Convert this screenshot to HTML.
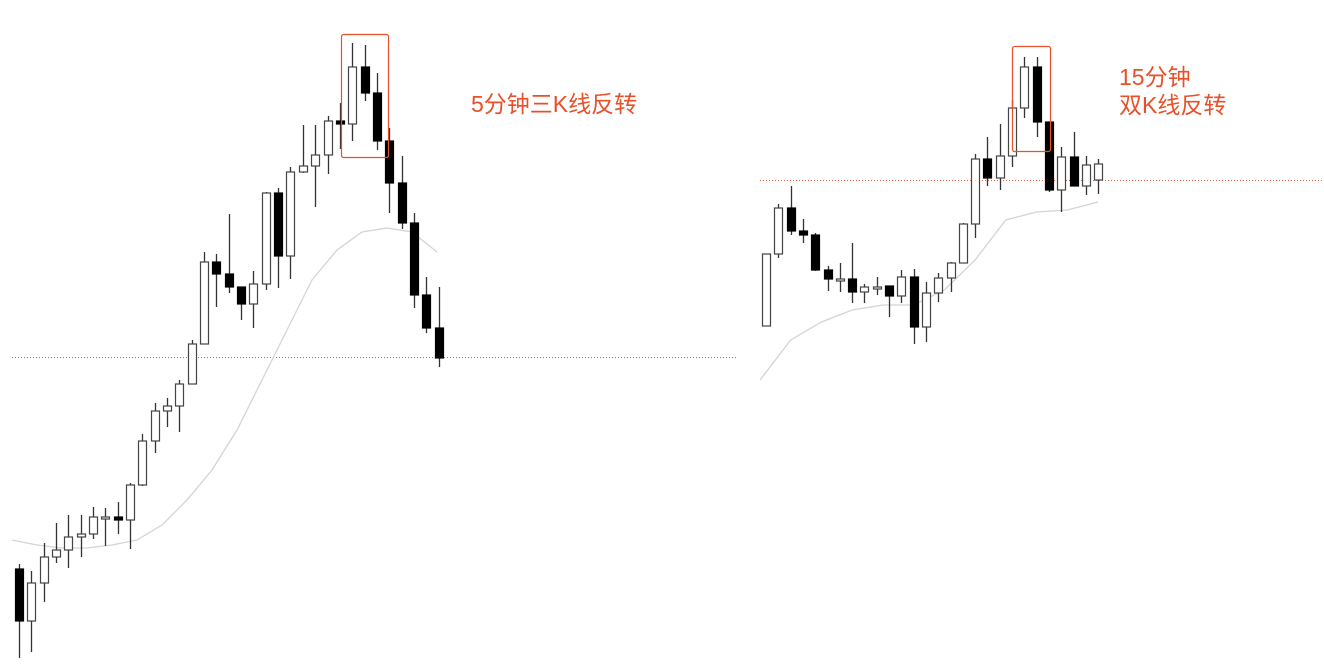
<!DOCTYPE html>
<html><head><meta charset="utf-8"><style>
html,body{margin:0;padding:0;background:#fff;width:1324px;height:665px;overflow:hidden}
.lbl{position:absolute;color:#e8502a;font-family:"Liberation Sans","Noto Sans CJK SC",sans-serif;font-size:23px;line-height:28px;white-space:nowrap}
</style></head><body>
<svg id="chart" width="1324" height="665" style="position:absolute;left:0;top:0">
<line x1="12" y1="357.5" x2="737" y2="357.5" stroke="#e06040" stroke-width="1" stroke-dasharray="1,2"/>
<line x1="760" y1="180.5" x2="1324" y2="180.5" stroke="#e06040" stroke-width="1" stroke-dasharray="1,2"/>
<g id="left"></g>
<g id="right"></g>
<rect x="341.5" y="34.5" width="47" height="123" rx="2" fill="none" stroke="#e8502a" stroke-width="1.2"/>
<rect x="1012.5" y="46.5" width="38" height="105" rx="2" fill="none" stroke="#e8502a" stroke-width="1.2"/>
</svg>
<div class="lbl" style="left:471px;top:90px">5分钟三K线反转</div>
<div class="lbl" style="left:1119px;top:63px">15分钟<br>双K线反转</div>
<script>
// price values (arbitrary units), [open, high, low, close]
const leftOpen  = [131,79,117,143,150,163,166,183,183,180,215,259,289,294,316,356,438,426,413,396,416,507,444,528,534,545,579,576,633,607,559,517,477,405,372];
const leftClose = [79,117,143,150,163,166,183,183,180,215,259,289,294,316,356,438,426,413,396,416,507,444,528,534,545,579,576,633,607,559,517,477,405,372,342];
const leftHigh  = [136,129,157,177,185,185,193,192,198,217,266,297,302,320,360,448,446,486,413,429,508,512,533,575,575,584,597,657,655,627,572,544,487,423,413];
const leftLow   = [42,48,98,137,132,143,161,154,166,151,214,247,273,268,316,356,393,407,380,372,410,412,421,527,493,526,551,559,599,550,487,471,392,367,333];
const leftMA    = [160,155,152,152,155,160,175,200,230,270,320,370,420,450,468,472,468,448];
const rightOpen  = [374,446,492,469,465,430,421,421,408,413,414,404,423,373,407,422,437,476,541,522,544,592,633,578,510,543,514,520];
const rightClose = [446,492,469,465,430,421,421,408,413,413,404,423,373,407,422,437,476,541,522,544,592,633,578,510,543,514,535,536];
const rightHigh  = [446,496,514,481,467,434,437,457,416,423,414,430,431,418,427,438,477,546,563,576,600,643,643,578,553,568,544,541];
const rightLow   = [374,442,465,457,429,409,408,397,397,405,383,397,356,358,398,408,437,462,514,510,533,582,563,508,488,514,505,506];
const rightMA    = [320,360,378,390,395,395,410,440,480,488,490,498];
const leftX0=19, leftStep=12.34, rightX0=766, rightStep=12.3;
function yScale(v){return 700 - v;}
const NS='http://www.w3.org/2000/svg';
function draw(g,open,close,high,low,x0,step){
  for(let i=0;i<open.length;i++){
    const x=Math.round(x0+i*step)+0.5;
    const bull=close[i]>=open[i];
    const w=document.createElementNS(NS,'line');
    
    
    w.setAttribute('x1',x);w.setAttribute('x2',x);
    w.setAttribute('y1',yScale(high[i]));w.setAttribute('y2',yScale(low[i]));
    w.setAttribute('stroke','#333');w.setAttribute('stroke-width','1.3');
    g.appendChild(w);
    const top=yScale(Math.max(open[i],close[i])), bot=yScale(Math.min(open[i],close[i]));
    const r=document.createElementNS(NS,'rect');
    
    
    r.setAttribute('x',x-4);r.setAttribute('width',8);
    r.setAttribute('y',top);r.setAttribute('height',Math.max(bot-top,2));
    r.setAttribute('fill',bull?'#fff':'#000');
    r.setAttribute('stroke',bull?'#444':'#000');r.setAttribute('stroke-width','1.2');
    g.appendChild(r);
  }
}
function drawMA(g,ma,xStart,xEnd){
  const pts=ma.map((v,i)=>(xStart+(xEnd-xStart)*i/(ma.length-1)).toFixed(1)+','+yScale(v)).join(' ');
  const p=document.createElementNS(NS,'polyline');
  
  
  p.setAttribute('points',pts);p.setAttribute('fill','none');
  p.setAttribute('stroke','#d4d4d4');p.setAttribute('stroke-width','1.3');
  g.appendChild(p);
}
const gl=document.getElementById('left'), gr=document.getElementById('right');
drawMA(gl,leftMA,12,437);
drawMA(gr,rightMA,760,1098);
draw(gl,leftOpen,leftClose,leftHigh,leftLow,leftX0,leftStep);
draw(gr,rightOpen,rightClose,rightHigh,rightLow,rightX0,rightStep);
</script>
</body></html>
